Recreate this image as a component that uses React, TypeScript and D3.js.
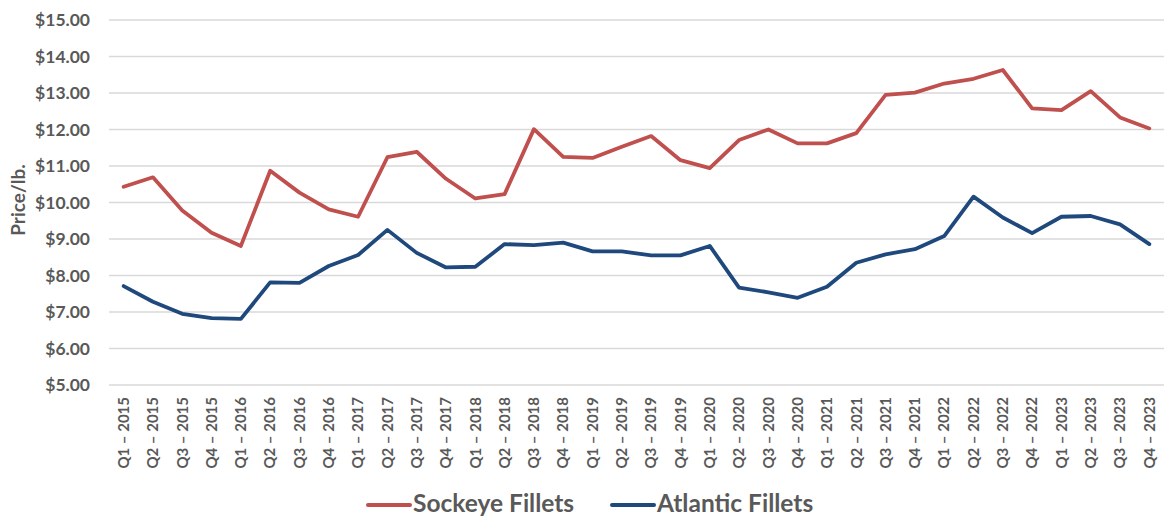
import { useEffect, useRef } from 'react';
import * as d3 from 'd3';

const QUARTERS = ['Q1', 'Q2', 'Q3', 'Q4'];
const YEARS = ['2015', '2016', '2017', '2018', '2019', '2020', '2021', '2022', '2023'];
const categories: string[] = YEARS.flatMap((y) => QUARTERS.map((q) => `${q} – ${y}`));

const sockeye = [
  10.43, 10.69, 9.78, 9.17, 8.81, 10.87, 10.27, 9.81, 9.61, 11.24, 11.39, 10.65,
  10.11, 10.23, 12.01, 11.25, 11.22, 11.53, 11.82, 11.16, 10.94, 11.71, 12.0, 11.62,
  11.62, 11.9, 12.95, 13.01, 13.26, 13.39, 13.63, 12.58, 12.53, 13.05, 12.33, 12.03,
];
const atlantic = [
  7.71, 7.28, 6.95, 6.83, 6.81, 7.81, 7.8, 8.26, 8.56, 9.25, 8.62, 8.22,
  8.24, 8.86, 8.83, 8.9, 8.66, 8.66, 8.55, 8.55, 8.81, 7.67, 7.54, 7.39,
  7.69, 8.35, 8.58, 8.72, 9.08, 10.16, 9.59, 9.16, 9.61, 9.63, 9.4, 8.86,
];
const yTicks = [5, 6, 7, 8, 9, 10, 11, 12, 13, 14, 15];

const series = [
  { name: 'Sockeye Fillets', values: sockeye, color: '#C0504D' },
  { name: 'Atlantic Fillets', values: atlantic, color: '#1F497D' },
];

const W = 1164;
const H = 518;
const TEXT = '#595959';
const FONT = 'Lato, "Open Sans", sans-serif';

export default function App() {
  const svgRef = useRef<SVGSVGElement>(null);

  useEffect(() => {
    if (!svgRef.current) return;
    const svg = d3.select(svgRef.current);
    svg.selectAll('*').remove();

    const left = 109;
    const right = 1164;
    const top = 20;
    const bottom = 385;

    const x = d3.scaleBand<string>().domain(categories).range([left, right]);
    const y = d3.scaleLinear().domain([5, 15]).range([bottom, top]);

    // gridlines
    svg.append('g')
      .selectAll('line')
      .data(yTicks)
      .enter()
      .append('line')
      .attr('x1', left)
      .attr('x2', right)
      .attr('y1', (d) => y(d))
      .attr('y2', (d) => y(d))
      .attr('stroke', '#D9D9D9')
      .attr('stroke-width', 1.3);

    // y tick labels
    svg.append('g')
      .selectAll('text')
      .data(yTicks)
      .enter()
      .append('text')
      .attr('x', 90)
      .attr('y', (d) => y(d))
      .attr('dy', '0.35em')
      .attr('text-anchor', 'end')
      .attr('font-family', FONT)
      .attr('font-weight', 700)
      .attr('font-size', 17.5)
      .attr('fill', TEXT)
      .text((d) => `$${d.toFixed(2)}`);

    // y axis title
    svg.append('text')
      .attr('transform', `translate(18,200) rotate(-90)`)
      .attr('dy', '0.35em')
      .attr('text-anchor', 'middle')
      .attr('font-family', FONT)
      .attr('font-weight', 700)
      .attr('font-size', 19)
      .attr('fill', TEXT)
      .text('Price/lb.');

    // x tick labels
    svg.append('g')
      .selectAll('text')
      .data(categories)
      .enter()
      .append('text')
      .attr('transform', (d) => `translate(${(x(d) ?? 0) + x.bandwidth() / 2},397) rotate(-90)`)
      .attr('dy', '0.35em')
      .attr('text-anchor', 'end')
      .attr('font-family', FONT)
      .attr('font-weight', 700)
      .attr('font-size', 15)
      .attr('fill', TEXT)
      .text((d) => d);

    // lines
    const line = d3.line<number>()
      .x((_, i) => (x(categories[i]) ?? 0) + x.bandwidth() / 2)
      .y((d) => y(d));

    series.forEach((s) => {
      svg.append('path')
        .datum(s.values)
        .attr('fill', 'none')
        .attr('stroke', s.color)
        .attr('stroke-width', 3.8)
        .attr('stroke-linejoin', 'round')
        .attr('stroke-linecap', 'round')
        .attr('d', line);
    });

    // legend
    const legendX = [368, 612];
    series.forEach((s, i) => {
      const g = svg.append('g').attr('transform', `translate(${legendX[i]},505)`);
      g.append('line')
        .attr('x1', 0)
        .attr('x2', 42)
        .attr('y1', 0)
        .attr('y2', 0)
        .attr('stroke', s.color)
        .attr('stroke-width', 4)
        .attr('stroke-linecap', 'round');
      g.append('text')
        .attr('x', 45)
        .attr('y', 7)
        .attr('font-family', FONT)
        .attr('font-weight', 700)
        .attr('font-size', 24.5)
        .attr('fill', TEXT)
        .text(s.name);
    });
  }, []);

  return (
    <svg
      ref={svgRef}
      width={W}
      height={H}
      style={{ position: 'absolute', left: 0, top: 0, background: '#fff' }}
    />
  );
}
